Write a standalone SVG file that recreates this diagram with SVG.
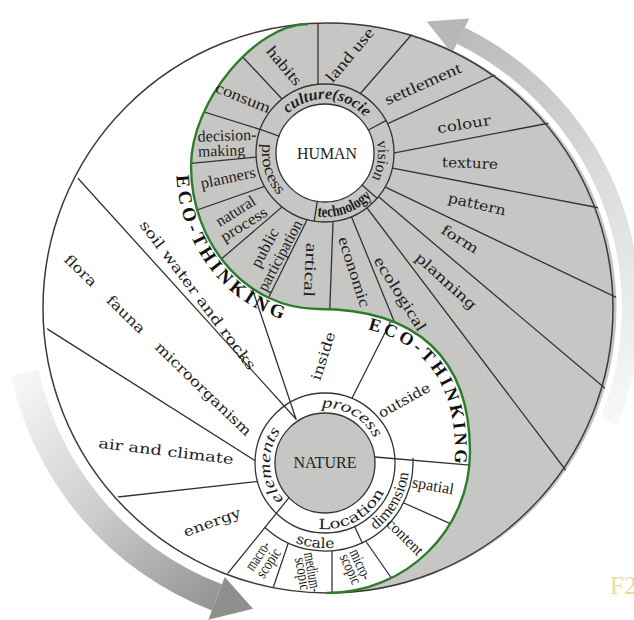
<svg xmlns="http://www.w3.org/2000/svg" width="634" height="620" viewBox="0 0 634 620">
<defs>
<style>
.ln{stroke:#333;stroke-width:1.3;fill:none;stroke-linecap:round}
.rg{stroke:#333;stroke-width:1.3}
.t{font-family:"Liberation Serif","Times New Roman",serif;fill:#1e1e1e;font-size:16px}
.w{font-family:"DejaVu Serif","Liberation Serif",serif;fill:#1e1e1e;font-size:14px}
.c{text-anchor:middle}
.eco{font-family:"Liberation Serif","Times New Roman",serif;font-weight:bold;fill:#111}
</style>
<linearGradient id="gTop" gradientUnits="userSpaceOnUse" x1="440" y1="20" x2="620" y2="420">
<stop offset="0" stop-color="#b6b8b5"/><stop offset="0.5" stop-color="#dcdedb"/><stop offset="1" stop-color="#f7f8f7"/>
</linearGradient>
<linearGradient id="gBot" gradientUnits="userSpaceOnUse" x1="30" y1="370" x2="240" y2="600">
<stop offset="0" stop-color="#f6f7f6"/><stop offset="0.45" stop-color="#cfd1ce"/><stop offset="1" stop-color="#8e908d"/>
</linearGradient>
<clipPath id="cpG"><path d="M308,24 A285,285 0 1,1 327,593 C406,593 470,530 470,452 C470,358 417,309 318,309 C248,309 191,245 191,166 C191,102.1 255.3,24 308,24 Z"/></clipPath>
<clipPath id="cpW"><path d="M308,24 A285,285 0 0,0 327,593 C406,593 470,530 470,452 C470,358 417,309 318,309 C248,309 191,245 191,166 C191,102.1 255.3,24 308,24 Z"/></clipPath>
<path id="pCulture" d="M283.6,118.3 A54,54 0 0,1 369.2,122"/>
<path id="pVision" d="M374.1,133.1 A53,53 0 0,1 366.8,185.6"/>
<path id="pTech" d="M313.9,216 A64,64 0 0,0 374,194.1"/>
<path id="pProcH" d="M265.8,131.5 A63,63 0 0,0 293.5,207.6"/>
<path id="pElem" d="M289.6,505.1 A55,55 0 0,1 289.6,420.9"/>
<path id="pProcN" d="M306.2,411.3 A55,55 0 0,1 379.2,453.4"/>
<path id="pLoc" d="M302.4,525 A66,66 0 0,0 390,474.5"/>
<path id="pScale" d="M282.5,536.6 A85,85 0 0,0 354.1,542.9"/>
<path id="pDim" d="M359.2,539.7 A84,84 0 0,0 408.5,454.2"/>
<path id="ecoL" d="M176.1,171.5 A142,158 0 0,0 313,323.9"/>
<path id="ecoR" d="M318,324 C408.4,324 455,367.5 455,452 C455,515 400,578 327,578"/>
</defs>

<g id="arrows">
<path d="M464.8,27.6 A312,312 0 0,1 617.3,424.9 L600.5,418.1 A294,294 0 0,0 456.9,43.8 Z" fill="url(#gTop)"/>
<polygon points="469.2,18.6 426.7,21.5 452.1,53.6" fill="#b6b8b5"/>
<path d="M11.1,375.4 A324,324 0 0,0 211.9,610.5 L221.9,584.3 A296,296 0 0,1 38.5,369.5 Z" fill="url(#gBot)"/>
<polygon points="224.8,576.9 253,608.8 208.3,619.8" fill="#8e908d"/>
</g>

<circle cx="328" cy="308" r="285" fill="#fff"/>
<path id="human-half" d="M308,24 A285,285 0 1,1 327,593 C406,593 470,530 470,452 C470,358 417,309 318,309 C248,309 191,245 191,166 C191,102.1 255.3,24 308,24 Z" fill="#c6c6c4"/>

<g id="connectors">
<g clip-path="url(#cpG)" class="ln">
<line x1="318" y1="94" x2="318" y2="10"/>
<line x1="353.4" y1="101.5" x2="420" y2="25"/>
<line x1="377.9" y1="128.1" x2="510" y2="68"/>
<line x1="384.2" y1="154.9" x2="560" y2="121"/>
<line x1="382.2" y1="166.1" x2="610" y2="210"/>
<line x1="376" y1="182.7" x2="630" y2="304"/>
<line x1="372.4" y1="191.5" x2="620" y2="401"/>
<line x1="361" y1="200" x2="580" y2="489"/>
<line x1="348.2" y1="208.7" x2="405" y2="348"/>
<line x1="333.4" y1="212" x2="329" y2="330"/>
<line x1="311.4" y1="211" x2="260" y2="315"/>
<line x1="289.6" y1="200.5" x2="205" y2="273"/>
<line x1="272.4" y1="183.7" x2="180" y2="216"/>
<line x1="268" y1="156" x2="175" y2="165"/>
<line x1="271.5" y1="133" x2="185" y2="106"/>
<line x1="288.8" y1="106.3" x2="225" y2="38"/>
</g>
<g clip-path="url(#cpW)" class="ln">
<line x1="343" y1="416" x2="396" y2="311"/>
<line x1="395" y1="499" x2="460" y2="528"/>
<line x1="360" y1="533" x2="397" y2="586"/>
<line x1="332" y1="540" x2="332" y2="600"/>
<line x1="291" y1="535" x2="269" y2="600"/>
<line x1="262" y1="481" x2="100" y2="499"/>
<line x1="262" y1="465" x2="30" y2="318"/>
</g>
</g>

<circle cx="328" cy="308" r="285" fill="none" stroke="#3a3a3a" stroke-width="1.5"/>
<path id="s-curve" d="M308,24 C255.3,24 191,102.1 191,166 C191,245 248,309 318,309 C417,309 470,358 470,452 C470,530 406,593 327,593" fill="none" stroke="#2d7d2d" stroke-width="2.4"/>

<g id="human">
<circle cx="325" cy="153" r="69" fill="#c6c6c4" class="rg"/>
<circle cx="325" cy="153" r="49" fill="#fff" class="rg"/>
<g class="ln">
<line x1="368.3" y1="130" x2="385.9" y2="120.6"/>
<line x1="362" y1="185.1" x2="377.1" y2="198.3"/>
<line x1="317.3" y1="201.4" x2="314.2" y2="221.2"/>
<line x1="279" y1="136.2" x2="260.2" y2="129.4"/>
</g>
<text class="t c" x="327" y="159" font-size="17" textLength="60" lengthAdjust="spacingAndGlyphs">HUMAN</text>
<text class="t c" font-size="15" font-style="italic" font-weight="bold"><textPath href="#pCulture" startOffset="50%" textLength="86" lengthAdjust="spacingAndGlyphs">culture(socie</textPath></text>
<text class="t c" font-size="14"><textPath href="#pVision" startOffset="50%" textLength="38" lengthAdjust="spacingAndGlyphs">vision</textPath></text>
<text class="t c" font-size="11" font-weight="bold"><textPath href="#pTech" startOffset="50%" textLength="60" lengthAdjust="spacingAndGlyphs">technology</textPath></text>
<text class="t c" font-size="14"><textPath href="#pProcH" startOffset="46%" textLength="56" lengthAdjust="spacingAndGlyphs">process</textPath></text>
</g>

<g id="human-labels">
<text class="t c" font-size="17" transform="translate(284,66) rotate(50)" y="5" textLength="46" lengthAdjust="spacingAndGlyphs">habits</text>
<text class="t c" font-size="17" transform="translate(350,55) rotate(-50)" y="5" textLength="66" lengthAdjust="spacingAndGlyphs">land use</text>
<text class="t c" font-size="17" transform="translate(423,84) rotate(-24)" y="5" textLength="82" lengthAdjust="spacingAndGlyphs">settlement</text>
<text class="w c" font-size="15" transform="translate(464,124) rotate(-9)" y="5" textLength="54" lengthAdjust="spacingAndGlyphs">colour</text>
<text class="w c" font-size="15" transform="translate(470,163) rotate(2)" y="5" textLength="56" lengthAdjust="spacingAndGlyphs">texture</text>
<text class="w c" font-size="15" transform="translate(477,204) rotate(13)" y="5" textLength="59" lengthAdjust="spacingAndGlyphs">pattern</text>
<text class="w c" font-size="15" transform="translate(460,239) rotate(32)" y="5" textLength="41" lengthAdjust="spacingAndGlyphs">form</text>
<text class="w c" font-size="15" transform="translate(446,281) rotate(42)" y="5" textLength="77" lengthAdjust="spacingAndGlyphs">planning</text>
<text class="t c" transform="translate(400,294) rotate(58)" y="5" textLength="85" lengthAdjust="spacingAndGlyphs">ecological</text>
<text class="t c" transform="translate(354,272) rotate(72)" y="5" textLength="73" lengthAdjust="spacingAndGlyphs">economic</text>
<text class="t c" transform="translate(310,270) rotate(93)" y="5" textLength="54" lengthAdjust="spacingAndGlyphs">artical</text>
<g transform="translate(273,252) rotate(-62)">
<text class="t c" font-size="15" y="-4" textLength="42" lengthAdjust="spacingAndGlyphs">public</text>
<text class="t c" font-size="15" y="13" textLength="78" lengthAdjust="spacingAndGlyphs">participation</text>
</g>
<g transform="translate(240,218) rotate(-32)">
<text class="t c" y="-3" textLength="44" lengthAdjust="spacingAndGlyphs">natural</text>
<text class="t c" y="12.5" textLength="52" lengthAdjust="spacingAndGlyphs">process</text>
</g>
<text class="t c" transform="translate(228,178) rotate(-12)" y="5" textLength="56" lengthAdjust="spacingAndGlyphs">planners</text>
<g transform="rotate(-2,220,148)">
<text class="t" x="198" y="141" textLength="59" lengthAdjust="spacingAndGlyphs">decision-</text>
<text class="t" x="198" y="156" textLength="47" lengthAdjust="spacingAndGlyphs">making</text>
</g>
<text class="t c" font-size="17" transform="translate(243,98) rotate(22)" y="5" textLength="58" lengthAdjust="spacingAndGlyphs">consum</text>
</g>

<g id="nature">
<path d="M325,463 L412.9,458.4 A88,88 0 0,1 265,527.4 Z" fill="#fff"/>
<path d="M412.9,458.4 A88,88 0 0,1 265,527.4" class="ln"/>
<circle cx="325" cy="463" r="70" fill="#fff" class="rg"/>
<g clip-path="url(#cpW)" class="ln">
<line x1="375" y1="457" x2="480" y2="466"/>
<line x1="289" y1="497.7" x2="220" y2="583"/>
<line x1="296" y1="419" x2="65" y2="164"/>
<line x1="296" y1="419" x2="250" y2="282"/>
</g>
<line x1="354.6" y1="526.4" x2="362.2" y2="542.8" class="ln"/>
<circle cx="325" cy="463" r="50" fill="#c6c6c4" class="rg"/>
<text class="t c" x="325" y="468" font-size="17" textLength="63" lengthAdjust="spacingAndGlyphs">NATURE</text>
<text class="t c" font-size="17" font-style="italic"><textPath href="#pElem" startOffset="47%" textLength="74" lengthAdjust="spacingAndGlyphs">elements</textPath></text>
<text class="t c" font-size="17" font-style="italic"><textPath href="#pProcN" startOffset="50%" textLength="64" lengthAdjust="spacingAndGlyphs">process</textPath></text>
<text class="w c" font-size="15"><textPath href="#pLoc" startOffset="49%" textLength="80" lengthAdjust="spacingAndGlyphs">Location</textPath></text>
<text class="w c" font-size="12"><textPath href="#pScale" startOffset="46%" textLength="40" lengthAdjust="spacingAndGlyphs">scale</textPath></text>
<text class="t c" font-size="11.5"><textPath href="#pDim" startOffset="50%" textLength="68" lengthAdjust="spacingAndGlyphs">dimension</textPath></text>
</g>

<g id="nature-labels">
<text class="w c" font-size="15" transform="translate(198,295) rotate(53)" y="5" textLength="183" lengthAdjust="spacingAndGlyphs">soil water and rocks</text>
<text class="w c" font-size="15" transform="translate(158,345) rotate(44)" y="5" word-spacing="12" textLength="254" lengthAdjust="spacingAndGlyphs">flora fauna microorganism</text>
<text class="w c" font-size="15" transform="translate(166,451) rotate(7)" y="5" textLength="136" lengthAdjust="spacingAndGlyphs">air and climate</text>
<text class="w c" font-size="15" transform="translate(212,522) rotate(-20)" y="5" textLength="60" lengthAdjust="spacingAndGlyphs">energy</text>
<text class="w c" font-size="15" transform="translate(323,356) rotate(-72)" y="5" textLength="50" lengthAdjust="spacingAndGlyphs">inside</text>
<text class="w c" font-size="15" transform="translate(404,400) rotate(-29)" y="5" textLength="57" lengthAdjust="spacingAndGlyphs">outside</text>
<text class="t c" font-size="15" transform="translate(433,486) rotate(10)" y="5" textLength="42" lengthAdjust="spacingAndGlyphs">spatial</text>
<text class="t c" font-size="14" transform="translate(405,537) rotate(45)" y="5" textLength="45" lengthAdjust="spacingAndGlyphs">content</text>
<g transform="translate(355,567) rotate(65)">
<text class="t c" font-size="12" y="-1" textLength="32" lengthAdjust="spacingAndGlyphs">micro-</text>
<text class="t c" font-size="12" y="10" textLength="32" lengthAdjust="spacingAndGlyphs">scopic</text>
</g>
<g transform="translate(307,573) rotate(80)">
<text class="t c" font-size="11" y="-0.5" textLength="40" lengthAdjust="spacingAndGlyphs">medium-</text>
<text class="t c" font-size="11" y="9.5" textLength="33" lengthAdjust="spacingAndGlyphs">scopic</text>
</g>
<g transform="translate(264,560) rotate(-56)">
<text class="t c" font-size="12" y="-2.5" textLength="32" lengthAdjust="spacingAndGlyphs">macro-</text>
<text class="t c" font-size="12" y="10.5" textLength="32" lengthAdjust="spacingAndGlyphs">scopic</text>
</g>
</g>

<g id="eco-thinking">
<text class="eco" font-size="19"><textPath href="#ecoL" startOffset="4" textLength="190" lengthAdjust="spacing">ECO-THINKING</textPath></text>
<text class="eco" font-size="18"><textPath href="#ecoR" startOffset="50" textLength="176" lengthAdjust="spacing">ECO-THINKING</textPath></text>
</g>

<text x="610" y="594" font-family="Liberation Serif, serif" font-size="25" fill="#e6dea0">F2</text>
</svg>
